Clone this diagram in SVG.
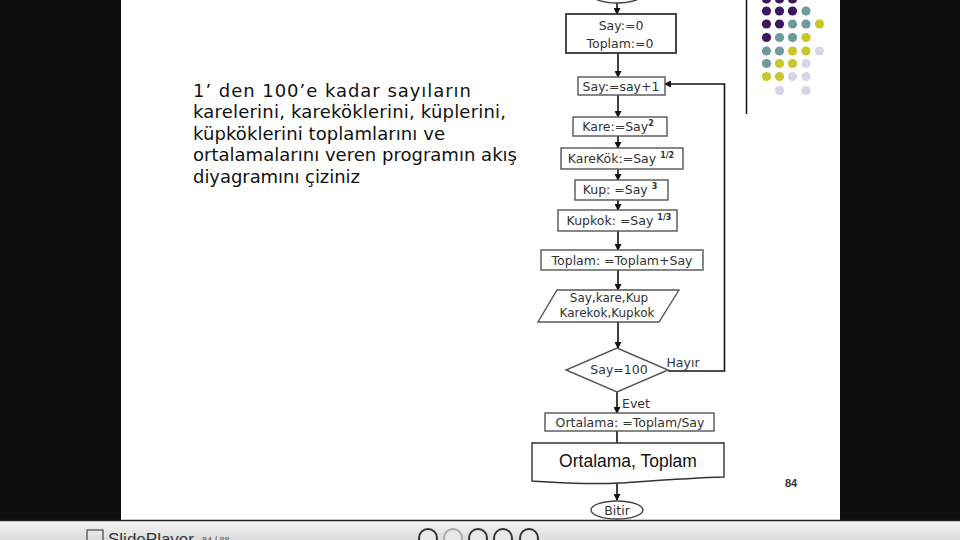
<svg xmlns="http://www.w3.org/2000/svg" width="960" height="540" viewBox="0 0 960 540">
<defs>
<marker id="ah" markerWidth="7" markerHeight="7" refX="6" refY="3.5" orient="auto" markerUnits="userSpaceOnUse">
<path d="M0,0 L7,3.5 L0,7 z" fill="#111"/>
</marker>
<linearGradient id="bar" x1="0" y1="0" x2="0" y2="1">
<stop offset="0" stop-color="#f6f6f6"/>
<stop offset="1" stop-color="#dcdcdc"/>
</linearGradient>
<style>
.box{fill:#fff;stroke:#555;stroke-width:1.4}
.dk{stroke:#333;stroke-width:1.8}
.ft{font-family:"DejaVu Sans",Verdana,sans-serif;font-size:12.5px;fill:#333;text-anchor:middle}
.sup{font-size:8px;font-weight:bold}
.con{fill:none;stroke:#111;stroke-width:1.6}
.q{font-family:"DejaVu Sans",Verdana,sans-serif;font-size:18px;fill:#111}
.p{fill:#3b1760}.t{fill:#6f9a9c}.y{fill:#cbc62b}.l{fill:#d6d6ea}
</style>
</defs>
<rect x="0" y="0" width="960" height="540" fill="#0e0e0e"/>
<rect x="121" y="0" width="719" height="520" fill="#fff"/>
<rect x="0" y="520" width="960" height="20" fill="url(#bar)"/>
<line x1="0" y1="520.5" x2="960" y2="520.5" stroke="#222" stroke-width="1.5"/>

<g id="question">
<text class="q" x="193" y="97" textLength="278" lengthAdjust="spacing">1’ den 100’e kadar sayıların</text>
<text class="q" x="193" y="118" textLength="313" lengthAdjust="spacing">karelerini, kareköklerini, küplerini,</text>
<text class="q" x="193" y="140" textLength="252" lengthAdjust="spacing">küpköklerini toplamlarını ve</text>
<text class="q" x="193" y="161" textLength="324" lengthAdjust="spacing">ortalamalarını veren programın akış</text>
<text class="q" x="193" y="183" textLength="167" lengthAdjust="spacing">diyagramını çiziniz</text>
</g>

<g id="decor">
<line x1="746.5" y1="0" x2="746.5" y2="114" stroke="#111" stroke-width="1.5"/>
<circle class="p" cx="766.5" cy="-1" r="4.6"/><circle class="p" cx="779.5" cy="-1" r="4.6"/><circle class="p" cx="792.5" cy="-1" r="4.6"/>
<circle class="p" cx="766.5" cy="11" r="4.6"/><circle class="p" cx="779.5" cy="11" r="4.6"/><circle class="p" cx="792.5" cy="11" r="4.6"/><circle class="t" cx="806" cy="11" r="4.6"/>
<circle class="p" cx="766.5" cy="24" r="4.6"/><circle class="p" cx="779.5" cy="24" r="4.6"/><circle class="t" cx="792.5" cy="24" r="4.6"/><circle class="t" cx="806" cy="24" r="4.6"/><circle class="y" cx="819.5" cy="24" r="4.6"/>
<circle class="p" cx="766.5" cy="37.5" r="4.6"/><circle class="t" cx="779.5" cy="37.5" r="4.6"/><circle class="t" cx="792.5" cy="37.5" r="4.6"/><circle class="y" cx="806" cy="37.5" r="4.6"/>
<circle class="t" cx="766.5" cy="51" r="4.6"/><circle class="t" cx="779.5" cy="51" r="4.6"/><circle class="y" cx="792.5" cy="51" r="4.6"/><circle class="y" cx="806" cy="51" r="4.6"/><circle class="l" cx="819.5" cy="51" r="4.6"/>
<circle class="t" cx="766.5" cy="63.5" r="4.6"/><circle class="y" cx="779.5" cy="63.5" r="4.6"/><circle class="y" cx="792.5" cy="63.5" r="4.6"/><circle class="l" cx="806" cy="63.5" r="4.6"/>
<circle class="y" cx="766.5" cy="76.5" r="4.6"/><circle class="y" cx="779.5" cy="76.5" r="4.6"/><circle class="l" cx="792.5" cy="76.5" r="4.6"/><circle class="l" cx="806" cy="76.5" r="4.6"/>
<circle class="l" cx="779.5" cy="90.5" r="4.6"/><circle class="l" cx="806" cy="90.5" r="4.6"/>
</g>

<g id="connectors">
<line class="con" x1="617" y1="3" x2="617" y2="14" marker-end="url(#ah)"/>
<line class="con" x1="618" y1="53" x2="618" y2="77" marker-end="url(#ah)"/>
<line class="con" x1="618" y1="95" x2="618" y2="117" marker-end="url(#ah)"/>
<line class="con" x1="618" y1="136" x2="618" y2="148" marker-end="url(#ah)"/>
<line class="con" x1="618" y1="169" x2="618" y2="180" marker-end="url(#ah)"/>
<line class="con" x1="618" y1="200" x2="618" y2="210" marker-end="url(#ah)"/>
<line class="con" x1="618" y1="231" x2="618" y2="250" marker-end="url(#ah)"/>
<line class="con" x1="618" y1="270" x2="618" y2="290" marker-end="url(#ah)"/>
<line class="con" x1="618" y1="322" x2="618" y2="348" marker-end="url(#ah)"/>
<polyline class="con" points="668,371 724.5,371 724.5,84 665,84" marker-end="url(#ah)"/>
<line class="con" x1="617" y1="392" x2="617" y2="413" marker-end="url(#ah)"/>
<line class="con" x1="617" y1="431" x2="617" y2="443"/>
<line class="con" x1="617" y1="482" x2="617" y2="500" marker-end="url(#ah)"/>
<text class="ft" x="683" y="367">Hayır</text>
<text class="ft" x="636" y="408">Evet</text>
</g>

<g id="start"><ellipse cx="617" cy="-7" rx="27" ry="10" fill="#fff" stroke="#444" stroke-width="1.4"/></g>

<g id="init">
<rect class="box dk" x="566" y="14" width="110" height="39"/>
<text class="ft" x="621" y="30">Say:=0</text>
<text class="ft" x="620" y="48">Toplam:=0</text>
</g>

<g id="inc">
<rect class="box" x="578" y="77" width="87" height="18" stroke="#888"/>
<text class="ft" x="621" y="91">Say:=say+1</text>
</g>

<g id="kare">
<rect class="box" x="573" y="117" width="94" height="19"/>
<text class="ft" x="618" y="131">Kare:=Say<tspan class="sup" dy="-5">2</tspan></text>
</g>

<g id="karekok">
<rect class="box" x="561" y="148" width="122" height="21"/>
<text class="ft" x="621" y="163">KareKök:=Say <tspan class="sup" dy="-5">1/2</tspan></text>
</g>

<g id="kup">
<rect class="box" x="575" y="180" width="93" height="20"/>
<text class="ft" x="620" y="194">Kup: =Say <tspan class="sup" dy="-5">3</tspan></text>
</g>

<g id="kupkok">
<rect class="box" x="558" y="210" width="119" height="21"/>
<text class="ft" x="619" y="225">Kupkok: =Say <tspan class="sup" dy="-5">1/3</tspan></text>
</g>

<g id="toplam">
<rect class="box" x="541" y="250" width="162" height="20"/>
<text class="ft" x="622" y="265">Toplam: =Toplam+Say</text>
</g>

<g id="output1">
<polygon class="box" points="557,290 679,290 659,322 538,322"/>
<text class="ft" x="609" y="302" font-size="12px" style="font-size:12px">Say,kare,Kup</text>
<text class="ft" x="607" y="317" style="font-size:12px">Karekok,Kupkok</text>
</g>

<g id="decision">
<polygon class="box" points="617,348 668,370 617,392 566,370"/>
<text class="ft" x="619" y="374">Say=100</text>
</g>

<g id="ortalama">
<rect class="box" x="545" y="413" width="169" height="18" stroke="#777"/>
<text class="ft" x="630" y="427">Ortalama: =Toplam/Say</text>
</g>

<g id="output2">
<path d="M532,443 L724,443 L724,477 C690,478 650,481 620,483 C580,485 555,482 532,481 Z" fill="#fff" stroke="#333" stroke-width="1.4"/>
<text x="628" y="467" font-family="Liberation Sans,Arial,sans-serif" font-size="17.5" fill="#111" text-anchor="middle">Ortalama, Toplam</text>
</g>

<g id="end">
<ellipse cx="617" cy="510" rx="26" ry="9" fill="#fff" stroke="#444" stroke-width="1.4"/>
<text class="ft" x="617" y="515">Bitir</text>
</g>

<text x="791" y="487" font-family="Liberation Sans,Arial,sans-serif" font-size="11" font-weight="bold" fill="#333" text-anchor="middle">84</text>

<g id="player">
<rect x="87" y="530" width="16" height="12" fill="none" stroke="#444" stroke-width="1.2"/>
<text x="108" y="545" font-family="Liberation Sans,Arial,sans-serif" font-size="17" fill="#333">SlidePlayer</text>
<text x="202" y="543" font-family="Liberation Sans,Arial,sans-serif" font-size="9" fill="#555">84 / 88</text>
<g fill="#e8e8e8" stroke="#333" stroke-width="2">
<circle cx="428" cy="538" r="9"/>
<circle cx="453" cy="538" r="9" stroke="#aaa"/>
<circle cx="478" cy="538" r="9"/>
<circle cx="503" cy="538" r="9"/>
<circle cx="529" cy="538" r="9"/>
</g>
</g>
</svg>
